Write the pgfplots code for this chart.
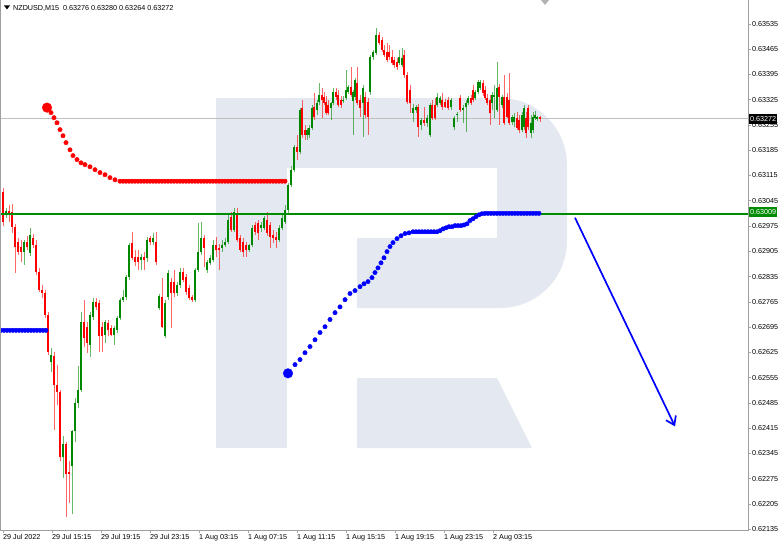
\documentclass[border=0pt]{standalone}
\usepackage{pgfplots}
\pgfplotsset{compat=1.18}
\usepackage{pgfplotstable}
\usepackage{fontspec}
\setmainfont{Liberation Sans}
\usetikzlibrary{arrows.meta}
\definecolor{mtgreen}{RGB}{0,140,0}
\definecolor{upc}{RGB}{0,135,0}
\definecolor{dnc}{RGB}{255,0,0}
\definecolor{wm}{RGB}{228,233,241}
\newcommand{\chartfont}{\fontsize{7.2}{8.5}\selectfont}

\pgfplotstableread{
x o h l c
6 0.63006 0.63025 0.62998 0.63017
24 0.62904 0.62937 0.62868 0.62931
30 0.62901 0.62970 0.62893 0.62951
51 0.62599 0.62638 0.62572 0.62619
63 0.62334 0.62392 0.62278 0.62370
72 0.62309 0.62411 0.62176 0.62406
75 0.62406 0.62500 0.62378 0.62486
78 0.62486 0.62586 0.62472 0.62522
81 0.62522 0.62738 0.62516 0.62710
90 0.62646 0.62738 0.62613 0.62729
93 0.62724 0.62776 0.62716 0.62765
105 0.62674 0.62716 0.62652 0.62710
114 0.62674 0.62699 0.62646 0.62693
117 0.62688 0.62727 0.62680 0.62721
120 0.62721 0.62776 0.62716 0.62771
123 0.62771 0.62799 0.62765 0.62779
126 0.62779 0.62840 0.62771 0.62835
129 0.62835 0.62929 0.62826 0.62923
141 0.62882 0.62898 0.62854 0.62890
147 0.62887 0.62945 0.62876 0.62937
153 0.62931 0.62956 0.62923 0.62942
159 0.62749 0.62788 0.62743 0.62782
165 0.62669 0.62771 0.62666 0.62763
168 0.62779 0.62854 0.62771 0.62846
177 0.62790 0.62821 0.62782 0.62812
180 0.62812 0.62859 0.62804 0.62848
195 0.62771 0.62859 0.62765 0.62854
198 0.62854 0.62984 0.62848 0.62904
201 0.62904 0.62987 0.62895 0.62942
207 0.62854 0.62882 0.62846 0.62876
210 0.62873 0.62895 0.62868 0.62887
213 0.62882 0.62937 0.62876 0.62923
222 0.62915 0.62937 0.62904 0.62923
225 0.62923 0.62942 0.62918 0.62931
228 0.62931 0.63006 0.62926 0.62992
234 0.62965 0.63025 0.62959 0.63014
249 0.62909 0.62926 0.62904 0.62923
252 0.62923 0.62978 0.62918 0.62970
261 0.62970 0.62987 0.62959 0.62978
264 0.62970 0.63003 0.62965 0.62998
279 0.62937 0.62978 0.62931 0.62970
282 0.62970 0.63006 0.62965 0.62998
285 0.62987 0.63034 0.62981 0.63020
288 0.63020 0.63095 0.63009 0.63089
291 0.63089 0.63142 0.63084 0.63131
294 0.63131 0.63200 0.63125 0.63194
300 0.63180 0.63302 0.63175 0.63297
307 0.63228 0.63247 0.63214 0.63241
309 0.63228 0.63255 0.63219 0.63247
312 0.63247 0.63310 0.63241 0.63302
317 0.63297 0.63324 0.63283 0.63316
319 0.63319 0.63371 0.63310 0.63338
331 0.63302 0.63319 0.63269 0.63316
333 0.63316 0.63357 0.63310 0.63346
343 0.63322 0.63335 0.63316 0.63324
346 0.63330 0.63407 0.63324 0.63352
348 0.63346 0.63366 0.63341 0.63360
353 0.63322 0.63352 0.63228 0.63346
355 0.63333 0.63385 0.63324 0.63380
363 0.63316 0.63366 0.63222 0.63357
370 0.63346 0.63449 0.63338 0.63443
373 0.63443 0.63463 0.63435 0.63457
376 0.63454 0.63524 0.63449 0.63504
399 0.63427 0.63463 0.63421 0.63443
402 0.63421 0.63468 0.63416 0.63441
413 0.63288 0.63313 0.63263 0.63302
416 0.63297 0.63310 0.63288 0.63305
421 0.63255 0.63274 0.63241 0.63269
427 0.63261 0.63283 0.63250 0.63274
430 0.63228 0.63316 0.63222 0.63310
437 0.63310 0.63344 0.63305 0.63333
440 0.63316 0.63335 0.63310 0.63330
451 0.63305 0.63330 0.63297 0.63324
454 0.63250 0.63280 0.63241 0.63274
457 0.63283 0.63291 0.63263 0.63286
463 0.63297 0.63310 0.63261 0.63302
466 0.63305 0.63324 0.63236 0.63316
468 0.63316 0.63335 0.63310 0.63330
475 0.63330 0.63352 0.63324 0.63346
478 0.63346 0.63380 0.63341 0.63374
480 0.63357 0.63380 0.63352 0.63374
492 0.63316 0.63346 0.63297 0.63338
494 0.63333 0.63366 0.63274 0.63338
497 0.63297 0.63429 0.63291 0.63357
502 0.63310 0.63338 0.63302 0.63333
512 0.63263 0.63283 0.63255 0.63277
514 0.63263 0.63288 0.63250 0.63277
522 0.63241 0.63291 0.63236 0.63283
524 0.63250 0.63310 0.63241 0.63302
531 0.63233 0.63283 0.63219 0.63261
533 0.63241 0.63291 0.63233 0.63277
535 0.63274 0.63294 0.63269 0.63283
537 0.63272 0.63280 0.63266 0.63277
}\up

\pgfplotstableread{
x o h l c
3 0.63070 0.63081 0.62976 0.62987
9 0.63017 0.63034 0.62987 0.63006
12 0.63014 0.63037 0.62956 0.62973
15 0.62973 0.62981 0.62846 0.62918
18 0.62931 0.62942 0.62895 0.62904
21 0.62918 0.62937 0.62876 0.62904
27 0.62931 0.62948 0.62909 0.62918
33 0.62942 0.62954 0.62915 0.62923
36 0.62923 0.62937 0.62840 0.62848
39 0.62848 0.62859 0.62793 0.62799
42 0.62799 0.62812 0.62776 0.62790
45 0.62790 0.62799 0.62721 0.62729
48 0.62729 0.62738 0.62619 0.62627
54 0.62616 0.62627 0.62411 0.62536
57 0.62536 0.62591 0.62480 0.62514
60 0.62514 0.62522 0.62323 0.62334
66 0.62370 0.62378 0.62170 0.62287
69 0.62295 0.62323 0.62209 0.62287
84 0.62710 0.62771 0.62641 0.62666
87 0.62696 0.62710 0.62624 0.62652
96 0.62765 0.62776 0.62743 0.62751
99 0.62763 0.62771 0.62627 0.62669
102 0.62696 0.62710 0.62627 0.62669
108 0.62707 0.62716 0.62669 0.62688
111 0.62693 0.62702 0.62669 0.62674
132 0.62929 0.62959 0.62882 0.62887
135 0.62890 0.62909 0.62865 0.62876
138 0.62890 0.62909 0.62854 0.62876
144 0.62890 0.62904 0.62854 0.62882
150 0.62942 0.62948 0.62923 0.62931
156 0.62931 0.62959 0.62868 0.62876
162 0.62779 0.62832 0.62693 0.62696
171 0.62821 0.62832 0.62693 0.62790
174 0.62821 0.62854 0.62779 0.62790
183 0.62848 0.62859 0.62821 0.62826
186 0.62835 0.62843 0.62785 0.62793
189 0.62804 0.62812 0.62771 0.62776
192 0.62779 0.62785 0.62765 0.62771
204 0.62942 0.62951 0.62862 0.62915
216 0.62923 0.62945 0.62890 0.62909
219 0.62915 0.62926 0.62854 0.62909
231 0.63001 0.63014 0.62959 0.62965
237 0.63012 0.63025 0.62931 0.62937
240 0.62942 0.62951 0.62904 0.62909
243 0.62931 0.62942 0.62890 0.62904
246 0.62923 0.62931 0.62890 0.62909
255 0.62978 0.62987 0.62951 0.62959
258 0.62984 0.62992 0.62937 0.62956
267 0.62992 0.63014 0.62948 0.62956
270 0.62978 0.62987 0.62915 0.62945
273 0.62951 0.62965 0.62929 0.62942
276 0.62945 0.62959 0.62915 0.62937
297 0.63194 0.63228 0.63158 0.63180
302 0.63302 0.63324 0.63219 0.63228
305 0.63241 0.63255 0.63214 0.63228
314 0.63305 0.63344 0.63269 0.63277
322 0.63338 0.63357 0.63274 0.63324
324 0.63333 0.63346 0.63310 0.63316
326 0.63319 0.63335 0.63283 0.63288
328 0.63310 0.63324 0.63283 0.63288
336 0.63346 0.63357 0.63324 0.63333
338 0.63338 0.63352 0.63305 0.63310
341 0.63324 0.63335 0.63302 0.63310
351 0.63360 0.63416 0.63333 0.63338
357 0.63371 0.63416 0.63310 0.63316
360 0.63324 0.63338 0.63277 0.63302
365 0.63333 0.63346 0.63274 0.63283
368 0.63319 0.63330 0.63228 0.63277
379 0.63504 0.63512 0.63477 0.63482
382 0.63490 0.63499 0.63457 0.63463
384 0.63463 0.63477 0.63443 0.63449
387 0.63457 0.63482 0.63429 0.63435
389 0.63457 0.63477 0.63435 0.63443
392 0.63443 0.63463 0.63421 0.63427
394 0.63435 0.63443 0.63413 0.63421
397 0.63429 0.63441 0.63407 0.63416
404 0.63449 0.63463 0.63385 0.63393
407 0.63393 0.63402 0.63313 0.63319
410 0.63352 0.63366 0.63288 0.63316
418 0.63305 0.63313 0.63222 0.63250
424 0.63269 0.63305 0.63252 0.63261
432 0.63310 0.63324 0.63269 0.63274
435 0.63310 0.63330 0.63269 0.63274
442 0.63324 0.63344 0.63297 0.63305
445 0.63319 0.63327 0.63302 0.63305
448 0.63324 0.63333 0.63297 0.63302
460 0.63330 0.63338 0.63291 0.63297
471 0.63330 0.63338 0.63310 0.63316
473 0.63352 0.63366 0.63319 0.63324
483 0.63371 0.63380 0.63335 0.63344
485 0.63352 0.63363 0.63324 0.63330
487 0.63330 0.63341 0.63310 0.63316
490 0.63324 0.63338 0.63255 0.63288
499 0.63360 0.63369 0.63255 0.63333
504 0.63333 0.63393 0.63255 0.63261
507 0.63333 0.63344 0.63274 0.63277
509 0.63324 0.63399 0.63255 0.63261
517 0.63274 0.63291 0.63241 0.63247
519 0.63269 0.63283 0.63233 0.63241
526 0.63274 0.63291 0.63219 0.63233
528 0.63302 0.63310 0.63241 0.63250
540 0.63276 0.63280 0.63264 0.63272
}\dn

\pgfplotsset{
  wick/.style={draw=none, mark=none, forget plot, error bars/.cd, y dir=plus, y explicit, error mark=none, error bar style={draw=#1, line width=1pt, opacity=0.6}},
  body/.style={draw=none, mark=none, forget plot, error bars/.cd, y dir=plus, y explicit, error mark=none, error bar style={draw=#1, line width=2.5pt}},
}

\begin{document}
\begin{tikzpicture}[x=1pt,y=1pt]
\path[use as bounding box] (0,-17) rectangle (782,530);
% watermark logo
\fill[wm] (216,432) rectangle (287,82);
\fill[wm] (287,432) -- (500,432) arc[start angle=90,end angle=0,radius=67] -- (567,289) arc[start angle=0,end angle=-90,radius=67] -- (357,222) -- (357,292) -- (497,292) -- (497,362) -- (287,362) -- cycle;
\fill[wm] (357,152) -- (497,152) -- (532,82) -- (357,82) -- cycle;
\begin{axis}[
  at={(0,0)}, anchor=south west, scale only axis,
  width=748pt, height=530pt,
  xmin=0, xmax=748, ymin=0.62133, ymax=0.63601,
  axis line style={draw=none},
  tick align=outside, major tick length=3pt,
  tick style={gray!70, line width=0.6pt},
  xtick pos=bottom, ytick pos=right, yticklabel pos=right,
  xtick={3,52,101,150,199,248,297,346,395,444,493},
  xticklabels={29 Jul 2022,29 Jul 15:15,29 Jul 19:15,29 Jul 23:15,1 Aug 03:15,1 Aug 07:15,1 Aug 11:15,1 Aug 15:15,1 Aug 19:15,1 Aug 23:15,2 Aug 03:15},
  ytick={0.62135,0.62205,0.62275,0.62345,0.62415,0.62485,0.62555,0.62625,0.62695,0.62765,0.62835,0.62905,0.62975,0.63045,0.63115,0.63185,0.63255,0.63325,0.63395,0.63465,0.63535},
  yticklabels={0.62135,0.62205,0.62275,0.62345,0.62415,0.62485,0.62555,0.62625,0.62695,0.62765,0.62835,0.62905,0.62975,0.63045,0.63115,0.63185,0.63255,0.63325,0.63395,0.63465,0.63535},
  xticklabel style={font=\chartfont, anchor=north west, inner sep=1pt, xshift=-1pt},
  yticklabel style={font=\chartfont, anchor=west, inner sep=1pt},
]
\addplot[gray!50, line width=0.6pt, forget plot] coordinates {(0,0.63272) (748,0.63272)};
\addplot[wick=upc] table[x=x, y=l, y error plus expr=\thisrow{h}-\thisrow{l}] {\up};
\addplot[wick=dnc] table[x=x, y=l, y error plus expr=\thisrow{h}-\thisrow{l}] {\dn};
\addplot[body=upc] table[x=x, y=o, y error plus expr=\thisrow{c}-\thisrow{o}] {\up};
\addplot[body=dnc] table[x=x, y=c, y error plus expr=\thisrow{o}-\thisrow{c}] {\dn};
\addplot[mtgreen, line width=1.6pt, forget plot] coordinates {(0,0.63009) (748,0.63009)};
% red indicator dots
\addplot[only marks, mark=*, mark size=2.2pt, color=red, forget plot] coordinates {
(51,0.63289)(54,0.63275)(57,0.63261)(60,0.63242)(63,0.63225)(66,0.63206)(70,0.63186)(73,0.63170)(77,0.63159)(81,0.63150)(85,0.63145)(90,0.63139)(95,0.63131)(100,0.63123)(105,0.63117)(110,0.63109)(115,0.63103)
(120,0.63099)(123,0.63099)(126,0.63099)(129,0.63099)(132,0.63099)(135,0.63099)(138,0.63099)(141,0.63099)(144,0.63099)(147,0.63099)(150,0.63099)(153,0.63099)(156,0.63099)(159,0.63099)(162,0.63099)(165,0.63099)(168,0.63099)(171,0.63099)(174,0.63099)(177,0.63099)(180,0.63099)(183,0.63099)(186,0.63099)(189,0.63099)(192,0.63099)(195,0.63099)(198,0.63099)(201,0.63099)(204,0.63099)(207,0.63099)(210,0.63099)(213,0.63099)(216,0.63099)(219,0.63099)(222,0.63099)(225,0.63099)(228,0.63099)(231,0.63099)(234,0.63099)(237,0.63099)(240,0.63099)(243,0.63099)(246,0.63099)(249,0.63099)(252,0.63099)(255,0.63099)(258,0.63099)(261,0.63099)(264,0.63099)(267,0.63099)(270,0.63099)(273,0.63099)(276,0.63099)(279,0.63099)(282,0.63099)(285,0.63099)
};
\addplot[only marks, mark=*, mark size=4.8pt, color=red, forget plot] coordinates {(47,0.63303)};
% blue indicator dots
\addplot[only marks, mark=*, mark size=2.2pt, color=blue, forget plot] coordinates {
(1,0.62686)(4,0.62686)(7,0.62686)(10,0.62686)(13,0.62686)(16,0.62686)(19,0.62686)(22,0.62686)(25,0.62686)(28,0.62686)(31,0.62686)(34,0.62686)(37,0.62686)(40,0.62686)(43,0.62686)(46,0.62686)
(295,0.62591)(300,0.62605)(305,0.62624)(310,0.62641)(315,0.62660)(320,0.62680)(325,0.62696)(330,0.62716)(335,0.62735)(340,0.62751)(345,0.62771)(350,0.62788)(355,0.62796)(360,0.62807)(364,0.62815)(368,0.62821)(372,0.62832)(375,0.62846)(378,0.62859)(381,0.62873)(384,0.62887)(387,0.62904)(390,0.62918)(393,0.62929)(397,0.62940)(401,0.62948)(405,0.62954)(409,0.62956)(413,0.62959)
(416,0.62959)(419,0.62959)(422,0.62959)(425,0.62959)(428,0.62959)(431,0.62959)(434,0.62959)(437,0.62959)
(440,0.62962)(443,0.62967)(446,0.62970)(449,0.62973)(452,0.62973)(455,0.62976)(458,0.62976)(461,0.62976)(464,0.62978)(467,0.62981)(470,0.62990)(473,0.62995)(476,0.63001)(479,0.63006)(482,0.63009)(485,0.63010)
(488,0.63010)(491,0.63010)(494,0.63010)(497,0.63010)(500,0.63010)(503,0.63010)(506,0.63010)(509,0.63010)(512,0.63010)(515,0.63010)(518,0.63010)(521,0.63010)(524,0.63010)(527,0.63010)(530,0.63010)(533,0.63010)(536,0.63010)(539,0.63010)
};
\addplot[only marks, mark=*, mark size=4.8pt, color=blue, forget plot] coordinates {(288,0.62567)};
% forecast arrow
\addplot[blue, line width=1.7pt, forget plot, -{Straight Barb[length=8pt,width=11pt,line width=1.7pt]}] coordinates {(575,0.62998) (675,0.62420)};
\end{axis}
% frame
\draw[gray!75, line width=0.9pt] (0.8,530) -- (0.8,0) -- (748,0) -- (748,530);
% price boxes
\node[fill=black, text=white, anchor=west, inner sep=0.8pt, minimum height=10pt, font=\chartfont] at (749,411) {0.63272};
\node[fill=mtgreen, text=white, anchor=west, inner sep=0.8pt, minimum height=10pt, font=\chartfont] at (749,318) {0.63009};
% title
\fill[black] (4,524.5) -- (10,524.5) -- (7,520.5) -- cycle;
\node[anchor=west, inner sep=0pt, font=\chartfont] at (13,522) {NZDUSD,M15\ \ 0.63276 0.63280 0.63264 0.63272};
% shift marker
\fill[gray!60] (541,530) -- (549,530) -- (545,525) -- cycle;
\end{tikzpicture}
\end{document}
